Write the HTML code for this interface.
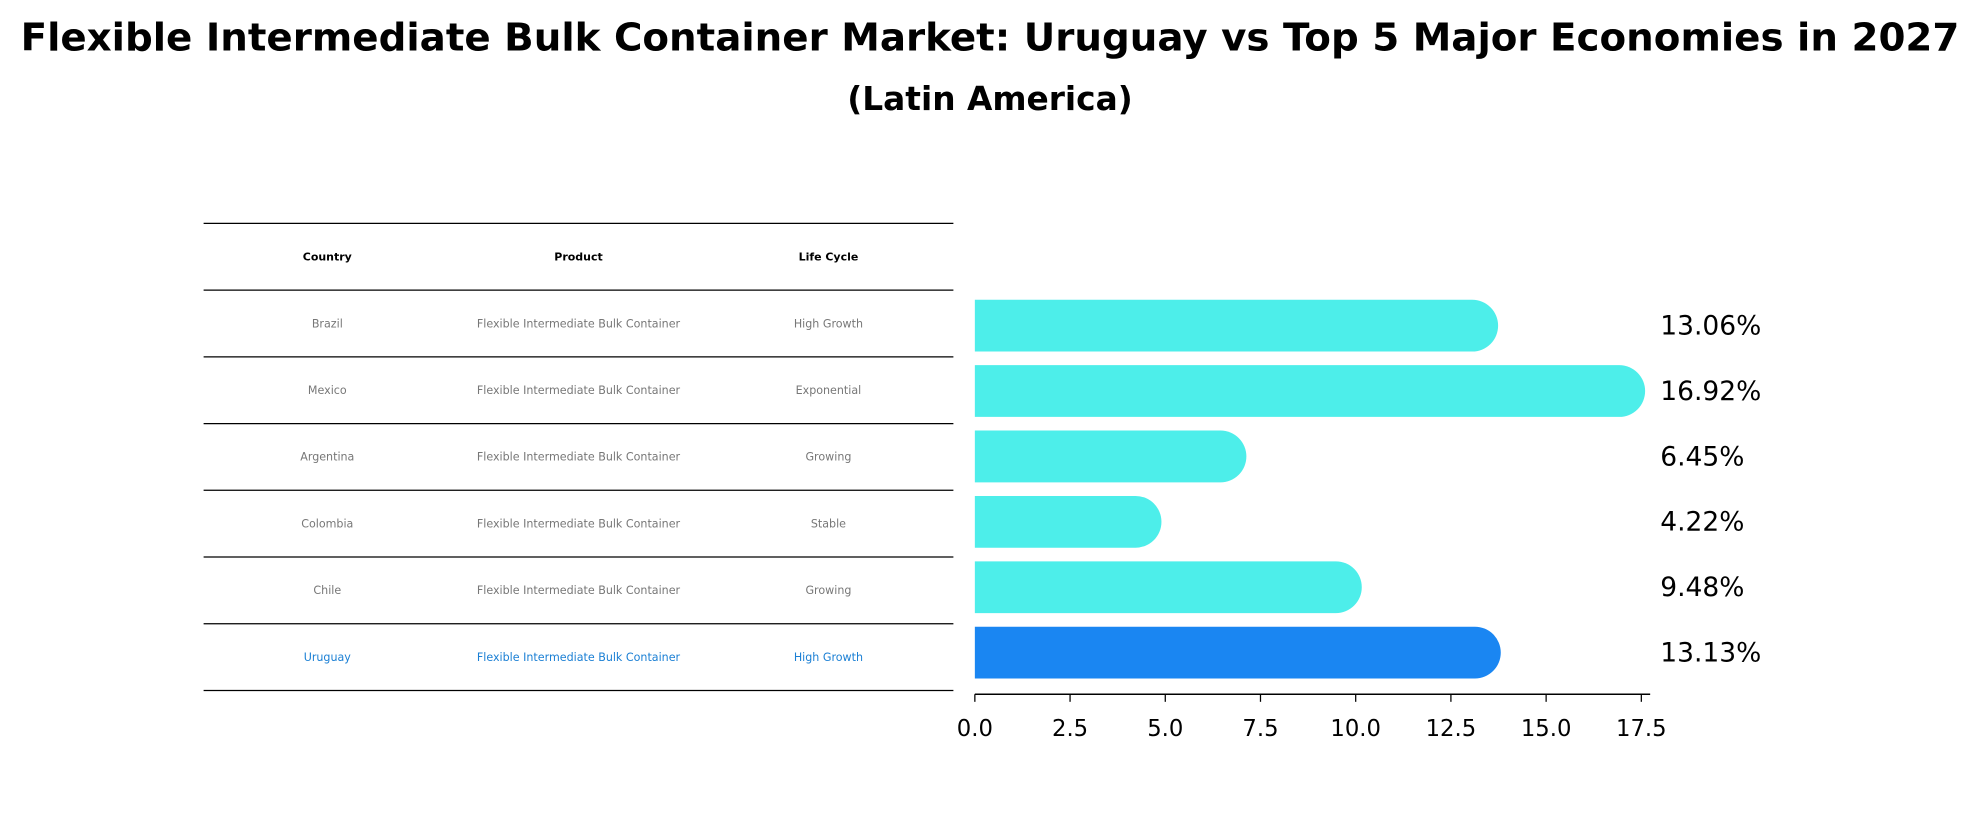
<!DOCTYPE html>
<html><head><meta charset="utf-8"><style>
html,body{margin:0;padding:0;background:#fff}
svg{display:block;font-family:"DejaVu Sans","Liberation Sans",sans-serif}
</style></head><body>
<svg id="chart" width="1980" height="823" viewBox="0 0 1568 652" xmlns="http://www.w3.org/2000/svg">
<text x="784" y="40" text-anchor="middle" font-size="30.5" font-weight="bold" textLength="1536" lengthAdjust="spacingAndGlyphs">Flexible Intermediate Bulk Container Market: Uruguay vs Top 5 Major Economies in 2027</text>
<text x="784" y="87" text-anchor="middle" font-size="26" font-weight="bold">(Latin America)</text>
<g id="table"></g>
<g id="bars"></g>
</svg>
<script>
const countries = ["Brazil","Mexico","Argentina","Colombia","Chile","Uruguay"];
const lifeCycles = ["High Growth","Exponential","Growing","Stable","Growing","High Growth"];
const growthValues = [13.06,16.92,6.45,4.22,9.48,13.13];
const xTicks = [0,2.5,5,7.5,10,12.5,15,17.5];
const product = "Flexible Intermediate Bulk Container";

const NS="http://www.w3.org/2000/svg";
function mk(tag,attrs,parent){const e=document.createElementNS(NS,tag);for(const k in attrs)e.setAttribute(k,attrs[k]);parent.appendChild(e);return e;}
const X0=772, XS=(1300-772)/17.5;
const xScale=v=>X0+v*XS;
const ROW0=258, ROWH=51.8;
const yScale=i=>ROW0+i*ROWH;

const tb=document.getElementById('table');
const colX=[259,458,656];
const lineTop=177, lineStep=(547-177)/7;
for(let i=0;i<8;i++){
  const l=mk('line',{x1:161,x2:755,y1:lineTop+i*lineStep,y2:lineTop+i*lineStep,stroke:'#000','stroke-width':1},tb);
  
  
}
["Country","Product","Life Cycle"].forEach((h,j)=>{
  const t=mk('text',{x:colX[j],y:lineTop+lineStep/2+3,'text-anchor':'middle','font-size':8.7,'font-weight':'bold'},tb);
  t.textContent=h;
  
  
});
countries.forEach((c,i)=>{
  const y=lineTop+(i+1.5)*lineStep+3;
  const col=i===countries.length-1?'#1a7fd4':'#777';
  [c,product,lifeCycles[i]].forEach((v,j)=>{
    const t=mk('text',{x:colX[j],y:y,'text-anchor':'middle','font-size':8.8,fill:col},tb);
    t.textContent=v;
    
    
  });
});

const bg=document.getElementById('bars');
const BH=41, R=BH/2;
growthValues.forEach((v,i)=>{
  const cy=yScale(i);
  const col=i===growthValues.length-1?'#1a86f2':'#4deeea';
  const xe=xScale(v);
  const p=mk('path',{d:`M${X0},${cy-R} H${xe} A${R},${R} 0 0 1 ${xe},${cy+R} H${X0} Z`,fill:col},bg);
  
  
  const t=mk('text',{x:1315,y:cy+7,'font-size':21},bg);
  t.textContent=v.toFixed(2)+'%';
  
  
});
const ax=mk('line',{x1:X0,x2:1307,y1:550,y2:550,stroke:'#000','stroke-width':1.2},bg);


xTicks.forEach(v=>{
  const x=xScale(v);
  const tk=mk('line',{x1:x,x2:x,y1:550,y2:556,stroke:'#000','stroke-width':1},bg);
  
  
  const t=mk('text',{x:x,y:583,'text-anchor':'middle','font-size':18},bg);
  t.textContent=v.toFixed(1);
  
  
});
</script>
</body></html>
